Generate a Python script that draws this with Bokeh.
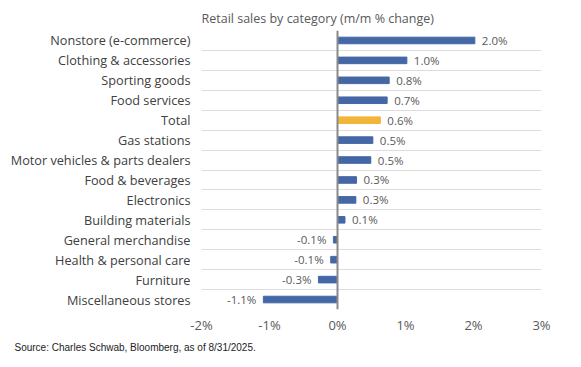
from bokeh.plotting import figure
from bokeh.models import ColumnDataSource, FixedTicker, Span, Title, Range1d
from bokeh.core.properties import value
from bokeh.embed import file_html
from bokeh.resources import INLINE

categories = [
    "Nonstore (e-commerce)", "Clothing & accessories", "Sporting goods",
    "Food services", "Total", "Gas stations", "Motor vehicles & parts dealers",
    "Food & beverages", "Electronics", "Building materials",
    "General merchandise", "Health & personal care", "Furniture",
    "Miscellaneous stores",
]
values = [2.02, 1.02, 0.76, 0.73, 0.63, 0.52, 0.49, 0.28, 0.27, 0.11,
          -0.06, -0.10, -0.28, -1.09]
value_labels = ["2.0%", "1.0%", "0.8%", "0.7%", "0.6%", "0.5%", "0.5%",
                "0.3%", "0.3%", "0.1%", "-0.1%", "-0.1%", "-0.3%", "-1.1%"]
highlight = "Total"
x_ticks = [-2, -1, 0, 1, 2, 3]
x_tick_labels = ["-2%", "-1%", "0%", "1%", "2%", "3%"]
title_text = "Retail sales by category (m/m % change)"
source_text = "Source: Charles Schwab, Bloomberg, as of 8/31/2025."

BLUE = "#4467A6"
GOLD = "#F2B53A"
FONT = "Open Sans"

W, H = 573, 359
LEFT, RIGHT, TOP, BOTTOM = 201, 32, 30, 50
n = len(categories)
ys = [n - i - 0.5 for i in range(n)]
colors = [GOLD if c == highlight else BLUE for c in categories]

src = ColumnDataSource(dict(
    y=ys, v=values, color=colors, lab=value_labels,
    align=["left" if v >= 0 else "right" for v in values],
    xoff=[7 if v >= 0 else -7 for v in values],
))

p = figure(width=W, height=H, output_backend="svg", toolbar_location=None,
           x_range=Range1d(-2, 3), y_range=Range1d(0, n),
           min_border_left=LEFT, min_border_right=RIGHT,
           min_border_top=TOP, min_border_bottom=BOTTOM)
p.outline_line_color = None
p.background_fill_color = "white"
p.border_fill_color = "white"

p.hbar(y="y", left=0, right="v", height=0.33, color="color", source=src)
p.text(x="v", y="y", text="lab", text_align="align", x_offset="xoff",
       text_baseline="middle", text_font=value(FONT), text_font_size="11.5px",
       text_color="#595959", source=src)

p.add_layout(Span(location=0, dimension="height", line_color="#8a8a8a",
                  line_width=2))

# axes
p.xaxis.ticker = FixedTicker(ticks=x_ticks)
p.xaxis.major_label_overrides = {t: l for t, l in zip(x_ticks, x_tick_labels)}
p.xaxis.axis_line_color = None
p.xaxis.major_tick_line_color = None
p.xaxis.minor_tick_line_color = None
p.xaxis.major_tick_out = 0
p.xaxis.major_tick_in = 0
p.xaxis.major_label_text_font = FONT
p.xaxis.major_label_text_font_size = "13px"
p.xaxis.major_label_text_color = "#595959"
p.xaxis.major_label_standoff = 6

p.yaxis.ticker = FixedTicker(ticks=ys)
p.yaxis.major_label_overrides = {y: c for y, c in zip(ys, categories)}
p.yaxis.axis_line_color = None
p.yaxis.major_tick_line_color = None
p.yaxis.minor_tick_line_color = None
p.yaxis.major_tick_out = 0
p.yaxis.major_tick_in = 0
p.yaxis.major_label_text_font = FONT
p.yaxis.major_label_text_font_size = "12.7px"
p.yaxis.major_label_text_color = "#404040"
p.yaxis.major_label_standoff = 11

p.xgrid.grid_line_color = None
p.ygrid.ticker = FixedTicker(ticks=list(range(n + 1)))
p.ygrid.grid_line_color = "#dcdcdc"
p.ygrid.grid_line_width = 1

p.add_layout(Title(text=title_text, align="left", offset=0, standoff=7,
                   text_font=FONT, text_font_size="12.5px",
                   text_font_style="normal", text_color="#595959"), "above")
p.add_layout(Title(text=source_text, align="left", offset=14 - LEFT,
                   standoff=6, text_font="Liberation Sans",
                   text_font_size="10px", text_font_style="normal",
                   text_color="#222222"), "below")

open("out.html", "w").write(file_html(p, INLINE))
